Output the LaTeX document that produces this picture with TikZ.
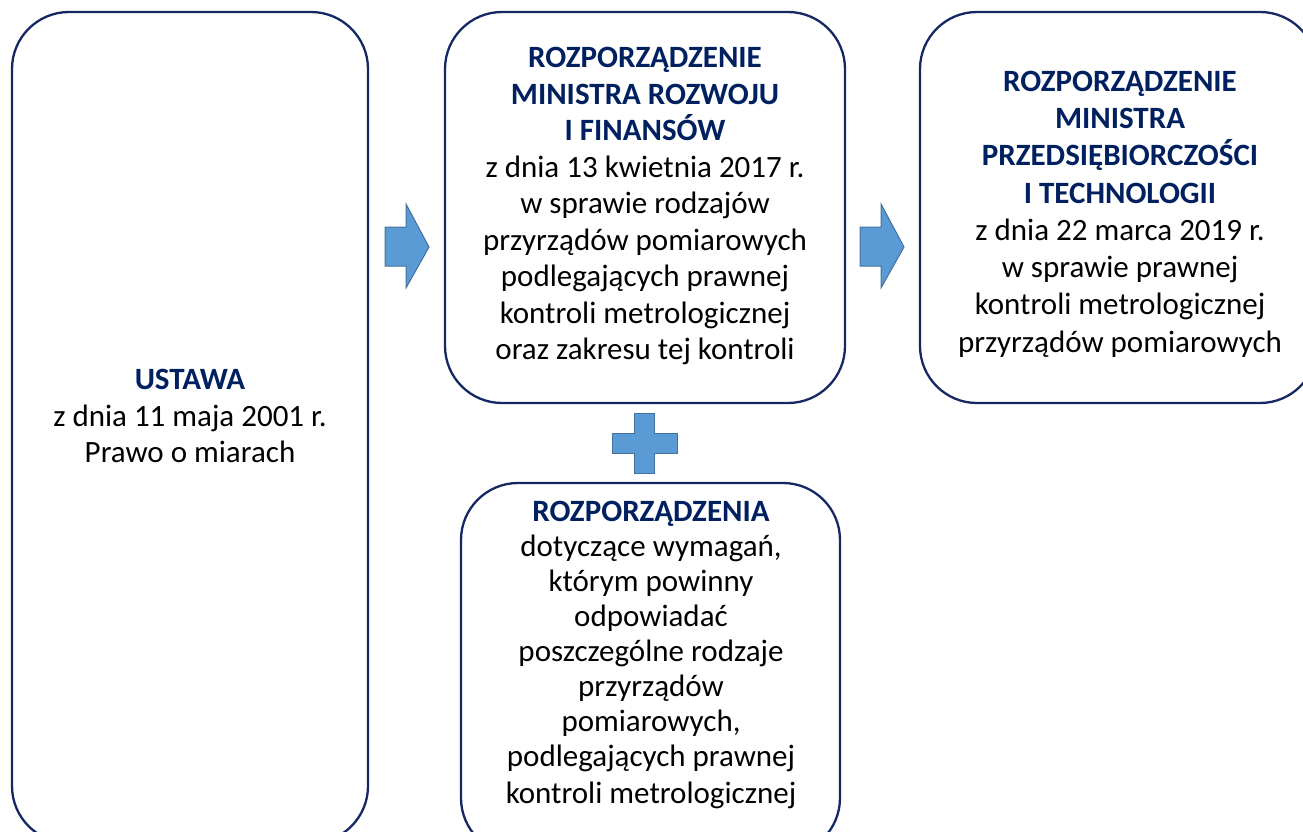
\documentclass[tikz,border=0pt]{standalone}
\usepackage{fontspec}
\setmainfont{Carlito}
\definecolor{navy}{RGB}{0,32,96}
\definecolor{boxline}{RGB}{20,40,100}
\definecolor{arrowfill}{RGB}{91,155,213}
\definecolor{arrowline}{RGB}{65,113,156}
\begin{document}
\begin{tikzpicture}[x=1pt,y=-1pt,
  lawbox/.style={draw=boxline,line width=2.3pt,rounded corners=57pt,fill=white},
  lawtext/.style={align=center,inner sep=0pt,font=\fontsize{31}{36.5}\selectfont},
  blockarrow/.style={fill=arrowfill,draw=arrowline,line width=1pt,line join=miter}]
\useasboundingbox (0,0) rectangle (1303,832);
\clip (0,0) rectangle (1303,832);
% boxes
\draw[lawbox] (12,12) rectangle (368,843);
\draw[lawbox] (445,12) rectangle (845,403);
\draw[lawbox] (920,12) rectangle (1317,403);
\draw[lawbox] (461,483) rectangle (840,855);
% texts
\node[lawtext] (ustawa) at (190,416) {\textcolor{navy}{\textbf{USTAWA}}\\z dnia 11 maja 2001 r.\\Prawo o miarach};
\node[lawtext] (rozp1) at (645,206) {\textcolor{navy}{\textbf{ROZPORZĄDZENIE}}\\\textcolor{navy}{\textbf{MINISTRA ROZWOJU}}\\\textcolor{navy}{\textbf{I FINANSÓW}}\\z dnia 13 kwietnia 2017 r.\\w sprawie rodzajów\\przyrządów pomiarowych\\podlegających prawnej\\kontroli metrologicznej\\oraz zakresu tej kontroli};
\node[lawtext,font=\fontsize{31}{37.3}\selectfont] (rozp2) at (1120,214) {\textcolor{navy}{\textbf{ROZPORZĄDZENIE}}\\\textcolor{navy}{\textbf{MINISTRA}}\\\textcolor{navy}{\textbf{PRZEDSIĘBIORCZOŚCI}}\\\textcolor{navy}{\textbf{I TECHNOLOGII}}\\z dnia 22 marca 2019 r.\\w sprawie prawnej\\kontroli metrologicznej\\przyrządów pomiarowych};
\node[lawtext,font=\fontsize{31}{35}\selectfont] (rozp3) at (651,655) {\textcolor{navy}{\textbf{ROZPORZĄDZENIA}}\\dotyczące wymagań,\\którym powinny\\odpowiadać\\poszczególne rodzaje\\przyrządów\\pomiarowych,\\podlegających prawnej\\[2pt]kontroli metrologicznej};
% arrows
\draw[blockarrow] (385,227) -- (406,227) -- (406,204) -- (429,247) -- (406,288) -- (406,266) -- (385,266) -- cycle;
\draw[blockarrow] (860,227) -- (881,227) -- (881,204) -- (904,247) -- (881,288) -- (881,266) -- (860,266) -- cycle;
% plus
\draw[blockarrow] (634,413) -- (654,413) -- (654,433) -- (677,433) -- (677,453) -- (654,453) -- (654,473) -- (634,473) -- (634,453) -- (612,453) -- (612,433) -- (634,433) -- cycle;
\end{tikzpicture}
\end{document}
